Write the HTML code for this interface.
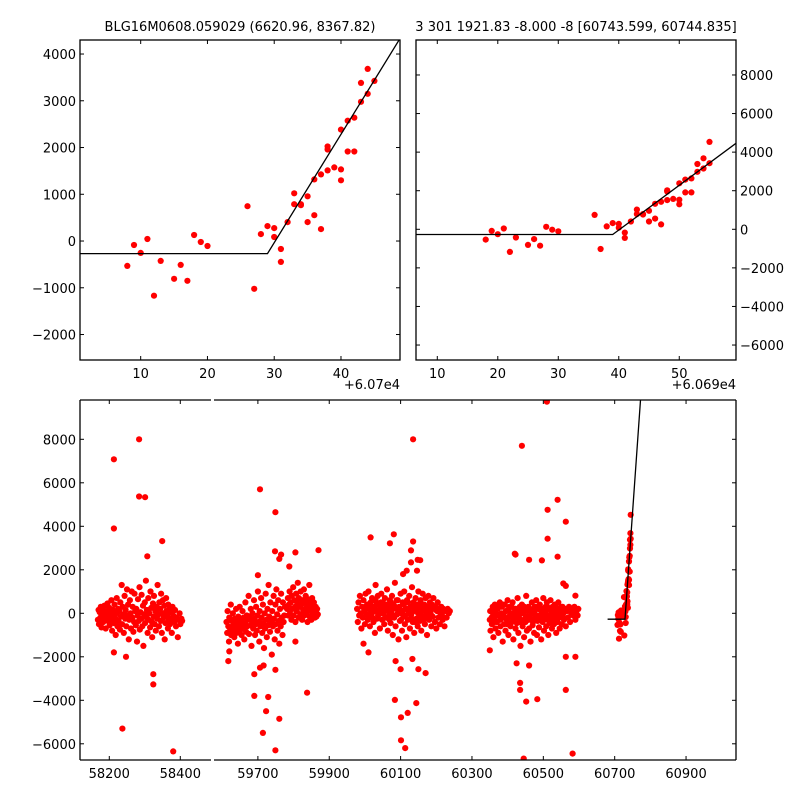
<!DOCTYPE html>
<html><head><meta charset="utf-8"><style>
html,body{margin:0;padding:0;background:#fff}
svg{display:block}
text{font-family:"DejaVu Sans","Liberation Sans",sans-serif;font-size:13px;fill:#000}
</style></head><body>
<svg id="fig" width="800" height="800" viewBox="0 0 800 800" xmlns="http://www.w3.org/2000/svg">
<rect width="800" height="800" fill="#fff"/>
<defs>
<clipPath id="cTL"><rect x="80" y="40" width="320" height="320"/></clipPath>
<clipPath id="cTR"><rect x="416" y="40" width="320" height="320"/></clipPath>
<clipPath id="cBL"><rect x="80" y="400" width="131" height="360"/></clipPath>
<clipPath id="cBR"><rect x="214" y="400" width="522" height="360"/></clipPath>
</defs>
<text x="240" y="31" text-anchor="middle">BLG16M0608.059029 (6620.96, 8367.82)</text>
<text x="576" y="31" text-anchor="middle">3 301 1921.83 -8.000 -8 [60743.599, 60744.835]</text>
<g id="g"></g>
</svg>
<script>
// ---- data ----
// near-peak points: day offset from 60700 and flux
const peakX=[8,9,10,11,12,13,15,16,17,18,19,20,26,27,28,29,30,30,31,31,32,33,33,34,34,35,35,36,36,37,37,38,38,38,39,40,40,40,41,41,42,42,43,43,44,44,45,45];
const peakF=[-532,-85,-255,43,-1170,-425,-808,-510,-850,128,-21,-106,745,-1021,149,319,277,85,-170,-447,404,1021,787,787,766,404,957,553,1319,255,1426,1511,2021,1957,1574,1298,1532,2383,1915,2574,1915,2638,2979,3383,3149,3681,3426,4530];
// season light-curve points (time, flux)
const s1T=[58168,58170,58171,58173,58175,58176,58178,58180,58181,58183,58185,58186,58188,58190,58191,58193,58195,58196,58198,58200,58201,58203,58205,58206,58208,58210,58211,58213,58215,58216,58218,58220,58221,58223,58225,58226,58228,58230,58231,58233,58235,58236,58238,58240,58241,58243,58245,58246,58248,58250,58251,58253,58255,58256,58258,58260,58261,58263,58265,58266,58268,58270,58271,58273,58275,58276,58278,58280,58281,58283,58285,58286,58288,58290,58291,58293,58295,58296,58298,58300,58301,58303,58305,58306,58308,58310,58311,58313,58315,58316,58318,58320,58321,58323,58325,58326,58328,58330,58331,58333,58335,58336,58338,58340,58341,58343,58345,58346,58348,58350,58351,58353,58355,58356,58358,58360,58361,58363,58365,58366,58368,58370,58371,58373,58375,58376,58378,58380,58383,58385,58388,58390,58393,58395,58398,58400,58403,58405,58213,58284,58284,58301,58349,58307,58324,58324,58237,58380,58213,58247,58213];
const s1F=[-300,150,-500,50,-200,300,-650,-100,200,-400,0,350,-250,-700,100,-50,450,-350,-150,250,-550,50,-300,600,-800,150,-100,-450,400,-200,-1000,0,700,-600,200,-350,100,-750,500,-150,1300,-500,300,-50,-900,800,-250,150,-600,1100,-100,400,-1200,-300,600,0,-700,1000,-200,300,-850,-400,900,100,-550,200,-1300,-100,650,-350,1200,-750,50,-250,850,-600,350,-1500,-50,500,-450,1500,-200,150,-900,700,-300,0,-650,1000,250,-400,-1100,450,-150,800,-500,100,-800,300,-250,1300,-50,-600,500,200,-350,900,-900,0,600,-200,350,-1200,-450,700,100,-100,-700,400,-300,200,-500,50,-250,-900,300,-100,-400,150,-600,-200,-1100,-300,0,-500,-250,-350,7080,8000,5370,5340,3320,2620,-2800,-3270,-5300,-6350,3900,-2000,-1800];
const s2T=[59612,59614,59615,59617,59619,59620,59622,59624,59625,59627,59629,59630,59632,59634,59635,59637,59639,59640,59642,59644,59645,59647,59649,59650,59652,59654,59655,59657,59659,59660,59662,59664,59665,59667,59669,59670,59672,59674,59675,59677,59679,59680,59682,59684,59685,59687,59689,59690,59692,59694,59695,59697,59699,59700,59702,59704,59705,59707,59709,59710,59712,59714,59715,59717,59719,59720,59722,59724,59725,59727,59729,59730,59732,59734,59735,59737,59739,59740,59742,59744,59745,59747,59749,59750,59752,59754,59755,59757,59759,59760,59762,59764,59765,59767,59769,59770,59772,59774,59776,
59782,59784,59785,59787,59789,59790,59792,59794,59795,59797,59799,59800,59802,59804,59805,59807,59809,59810,59812,59814,59815,59817,59819,59820,59822,59824,59825,59827,59829,59830,59832,59834,59835,59837,59839,59840,59842,59844,59845,59847,59849,59850,59852,59854,59855,59857,59859,59860,59862,59864,59866,59868,
59870,59706,59749,59748,59760,59765,59788,59805,59700,59617,59620,59690,59690,59723,59714,59749,59760,59729,59706,59716,59749,59838,59805];
const s2F=[-400,-900,100,-600,-1300,-200,-700,400,-1000,-350,-800,0,-500,-1100,-250,-650,200,-900,-400,-1400,-150,-600,300,-800,-300,-1000,-500,100,-700,-200,-1200,-450,500,-850,-100,-600,-300,800,-950,-150,-550,200,-1500,-350,0,-700,600,-250,-1000,-500,300,-800,-100,1000,-400,-1300,100,-600,700,-200,-900,400,-450,-1600,0,-700,900,-300,-1100,200,-550,1300,-150,-850,500,-400,-1900,100,-600,800,-250,-1200,400,-500,1100,-50,-800,600,-350,-1400,200,-600,900,-200,-1000,500,-400,-100,300,
200,700,-100,400,1000,0,500,-300,800,200,1200,-100,600,300,-400,900,100,500,1400,-200,700,300,-50,1000,400,-300,600,150,1100,-100,500,800,0,300,-400,650,200,1300,-150,450,100,-300,700,250,-100,500,0,-200,300,-150,200,-50,
2900,5700,4650,2850,2500,2700,2150,2800,1750,-2200,-1750,-2800,-3800,-4500,-5500,-6300,-4850,-3850,-2500,-2400,-2600,-3650,-1300];
const s3T=[59978,59980,59982,59984,59986,59988,59990,59992,59994,59996,59998,60000,60002,60004,60006,60008,60010,60012,60014,60016,60018,60020,60022,60024,60026,60028,60030,60032,60034,60036,60038,60040,60042,60044,60046,60048,60050,60052,60054,60056,60058,60060,60062,60064,60066,60068,60070,60072,60074,60076,60078,60080,60082,60084,60086,60088,60090,60092,60094,60096,60098,60100,60102,60104,60106,60108,60110,60112,60114,60116,60118,60120,60122,60124,60126,60128,60130,60132,60134,60136,60138,60140,60142,60144,60146,60148,60150,60152,60154,60156,60158,60160,60162,60164,60166,60168,60170,60172,60174,60176,60178,60180,60182,60184,60186,60188,60190,60192,60194,60196,60198,60200,60202,60204,60206,60208,60210,60212,60214,60216,60218,60220,60223,60226,60229,60232,60235,60238,
60001,60005,60009,60013,60017,60021,60025,60029,60033,60037,60041,60045,60049,60053,60057,60061,60065,60069,60073,60077,60081,60085,60089,60093,60097,60101,60105,60109,60113,60117,60121,60125,60129,60133,60137,60141,60145,60149,60153,60157,60161,60165,60169,60173,60177,60181,
60016,60081,60070,60135,60135,60129,60129,60148,60155,60117,60146,60107,60030,60084,60101,60101,60113,60120,60144,60150,60170,60100,60086,60133,59996,60010];
const s3F=[200,-400,500,-100,800,0,-700,300,-200,600,100,-500,900,-50,400,-300,1000,200,-600,500,-150,700,50,-400,300,-900,600,100,-250,800,-50,400,-700,200,900,-300,500,0,-500,700,150,-200,1100,-800,300,-100,600,-450,100,800,-1000,400,-200,1400,-600,200,-50,600,-1200,300,-350,900,0,-800,500,-150,1000,-500,200,-1100,600,-300,100,800,-700,300,-50,1200,-400,500,-900,150,700,-250,400,-600,1000,0,-350,600,-800,200,900,-150,400,-500,700,100,-1000,300,800,-300,500,0,-600,400,-150,700,200,-400,300,-700,100,500,-200,200,-500,0,300,-100,-300,200,-600,100,-200,200,0,100,
300,200,-100,400,100,-200,600,200,400,-100,100,500,0,300,-200,400,100,-300,500,200,-100,300,600,0,200,-300,100,400,-100,200,500,0,-200,300,100,-400,200,0,400,-100,100,-300,300,0,-200,200,
3490,3630,3220,8000,3300,2890,2340,2460,2440,1960,1960,1800,1300,-3980,-4780,-5840,-6200,-4580,-4130,-2570,-2750,-2570,-2200,-2100,-1400,-1800];
const s4T=[60350,60352,60354,60356,60358,60360,60362,60364,60366,60368,60370,60372,60374,60376,60378,60380,60382,60384,60386,60388,60390,60392,60394,60396,60398,60400,60402,60404,60406,60408,60410,60412,60414,60416,60418,60420,60422,60424,60426,60428,60430,60432,60434,60436,60438,60440,60442,60444,60446,60448,60450,60452,60454,60456,60458,60460,60462,60464,60466,60468,60470,60472,60474,60476,60478,60480,60482,60484,60486,60488,60490,60492,60494,60496,60498,60500,60502,60504,60506,60508,60510,60512,60514,60516,60518,60520,60522,60524,60526,60528,60530,60532,60534,60536,60538,60540,60542,60544,60546,60548,60550,60552,60554,60556,60558,60560,60563,60566,60569,60572,60575,60578,60581,60584,60587,60590,60593,60596,60598,
60351,60355,60359,60363,60367,60371,60375,60379,60383,60387,60391,60395,60399,60403,60407,60411,60415,60419,60423,60427,60431,60435,60439,60443,60447,60451,60455,60459,60463,60467,60471,60475,60479,60483,60487,60491,60495,60499,60503,60507,60511,60515,60519,60523,60527,60531,60535,60539,60543,60547,60551,60555,
60510,60440,60540,60512,60563,60512,60420,60422,60460,60496,60540,60556,60563,60590,60435,60435,60452,60483,60563,60563,60590,60582,60445,60425,60460,60350];
const s4F=[-300,-800,100,-500,300,-1100,-200,400,-700,0,-400,200,-900,-100,500,-600,-250,300,-1300,-50,-500,400,-800,100,-300,600,-1000,-150,300,-600,0,-400,500,-1200,-200,200,-700,100,-450,700,-900,-100,300,-1500,-300,400,-600,0,-1100,200,-400,800,-800,-150,300,-700,100,-1300,-250,500,-550,0,-900,300,-200,600,-1000,-350,200,-650,400,-100,-1200,100,-400,700,-800,-50,300,-600,500,-300,-1000,200,-450,600,-150,-700,300,0,-500,400,-250,-900,100,-400,500,-200,-700,200,-100,-500,300,0,-300,200,-600,100,-200,300,-400,0,200,-100,300,-300,100,-100,200,
100,-200,0,-400,200,-100,300,-300,0,400,-200,100,-500,200,-100,300,-300,0,200,-200,100,-400,200,0,300,-200,100,-300,200,0,-400,100,300,-100,200,-300,0,200,-200,100,300,-100,200,0,-300,100,300,-100,200,0,300,-200,
9730,7700,5220,4760,4210,3430,2740,2700,2460,2430,2600,1370,1260,810,-3200,-3520,-4060,-3950,-3520,-2000,-2000,-6450,-6680,-2300,-2400,-1700];
// model: break time, baseline flux, slope (flux/day)
const modelT0=60729, modelBase=-270, modelSlope=232;
// tick values
const tlYTicks=[-2000,-1000,0,1000,2000,3000,4000];
const tlXTicks=[10,20,30,40];
const trYTicks=[-6000,-4000,-2000,0,2000,4000,6000,8000];
const trXTicks=[10,20,30,40,50];
const bYTicks=[-6000,-4000,-2000,0,2000,4000,6000,8000];
const bLXTicks=[58200,58400];
const bRXTicks=[59700,59900,60100,60300,60500,60700,60900];

const NS="http://www.w3.org/2000/svg";
const G=document.getElementById('g');
function mk(tag,attrs,parent){const e=document.createElementNS(NS,tag);for(const k in attrs)e.setAttribute(k,attrs[k]);(parent||G).appendChild(e);return e;}
function lin(d0,d1,r0,r1){return v=>r0+(v-d0)/(d1-d0)*(r1-r0);}

function scatter(xs,ys,sx,sy,clip,name){
  const g=mk('g',{'clip-path':'url(#'+clip+')'});
  
  
  for(let i=0;i<xs.length;i++){
    const c=mk('circle',{cx:sx(xs[i]).toFixed(1),cy:sy(ys[i]).toFixed(1),r:3.1,fill:'#ff0000'},g);
    
    
  }
}
function modelLine(t0,t1,sx,sy,clip,name){
  const tEnd=Math.max(t1,modelT0);
  const pts=[[t0,modelBase],[modelT0,modelBase],[tEnd,modelBase+modelSlope*(tEnd-modelT0)]];
  const p=mk('polyline',{points:pts.map(q=>sx(q[0]).toFixed(1)+','+sy(q[1]).toFixed(1)).join(' '),fill:'none',stroke:'#000','stroke-width':1.3,'clip-path':'url(#'+clip+')'});
  
  
}
function xticks(vals,sx,top,bot,fmt,labels,name){
  vals.forEach(v=>{const x=sx(v);
    mk('line',{x1:x,x2:x,y1:bot,y2:bot-4,stroke:'#000'});
    mk('line',{x1:x,x2:x,y1:top,y2:top+4,stroke:'#000'});
    if(labels){const t=mk('text',{x:x,y:bot+18,'text-anchor':'middle'});t.textContent=fmt(v);
      
      }
  });
}
function yticks(vals,sy,left,right,side,name){
  vals.forEach(v=>{const y=sy(v);
    if(left!==null)mk('line',{x1:left,x2:left+4,y1:y,y2:y,stroke:'#000'});
    if(right!==null)mk('line',{x1:right,x2:right-4,y1:y,y2:y,stroke:'#000'});
    const lab=String(v).replace('-','\u2212');
    const t=side==='left'?mk('text',{x:left-4,y:y+5,'text-anchor':'end'}):mk('text',{x:right+4,y:y+5,'text-anchor':'start'});
    t.textContent=lab;
    
    
  });
}
function frame(x,y,w,h,name){const r=mk('rect',{x:x,y:y,width:w,height:h,fill:'none',stroke:'#000','stroke-width':1.3});
  
  }

// ---- top-left panel ----
const tlx=lin(60700.91,60748.84,80,400), tly=lin(-2545,4300,360,40);
scatter(peakX.map(v=>60700+v),peakF,tlx,tly,'cTL','top-left-points');
modelLine(60700.91,60748.84,tlx,tly,'cTL','top-left-model-line');
frame(80,40,320,320,'top-left-axes');
xticks(tlXTicks.map(v=>60700+v),tlx,40,360,v=>String(Math.round(v-60700)),true,'top-left-x-tick-label');
yticks(tlYTicks,tly,80,400,'left','top-left-y-tick-label');
let o=mk('text',{x:400,y:389,'text-anchor':'end'});o.textContent='+6.07e4';



// ---- top-right panel ----
const trx=lin(60696.48,60749.38,416,736), try_=lin(-6776,9813,360,40);
scatter(peakX.map(v=>60700+v),peakF,trx,try_,'cTR','top-right-points');
modelLine(60696.48,60749.38,trx,try_,'cTR','top-right-model-line');
frame(416,40,320,320,'top-right-axes');
xticks(trXTicks.map(v=>60690+v),trx,40,360,v=>String(Math.round(v-60690)),true,'top-right-x-tick-label');
yticks(trYTicks,try_,416,736,'right','top-right-y-tick-label');
o=mk('text',{x:736,y:389,'text-anchor':'end'});o.textContent='+6.069e4';



// ---- bottom broken-axis panel ----
const by=lin(-6745,9807,760,400);
const blx=lin(58117.5,58486.5,80,211), brx=lin(59577,61040,214,736);
const allT=[].concat(s1T,s2T,s3T,s4T,peakX.map(v=>60700+v));
const allF=[].concat(s1F,s2F,s3F,s4F,peakF);
scatter(allT,allF,blx,by,'cBL','bottom-left-points');
scatter(allT,allF,brx,by,'cBR','bottom-right-points');
modelLine(60680,61040,brx,by,'cBR','bottom-model-line');
// spines
mk('line',{x1:80,y1:400,x2:80,y2:760,stroke:'#000','stroke-width':1.3});
mk('line',{x1:80,y1:400,x2:211,y2:400,stroke:'#000','stroke-width':1.3});
mk('line',{x1:80,y1:760,x2:211,y2:760,stroke:'#000','stroke-width':1.3});
mk('line',{x1:214,y1:400,x2:736,y2:400,stroke:'#000','stroke-width':1.3});
mk('line',{x1:214,y1:760,x2:736,y2:760,stroke:'#000','stroke-width':1.3});
mk('line',{x1:736,y1:400,x2:736,y2:760,stroke:'#000','stroke-width':1.3});
xticks(bLXTicks,blx,400,760,v=>String(v),true,'bottom-x-tick-label');
xticks(bRXTicks,brx,400,760,v=>String(v),true,'bottom-x-tick-label');
yticks(bYTicks,by,80,736,'left','bottom-y-tick-label');
</script>
</body></html>
